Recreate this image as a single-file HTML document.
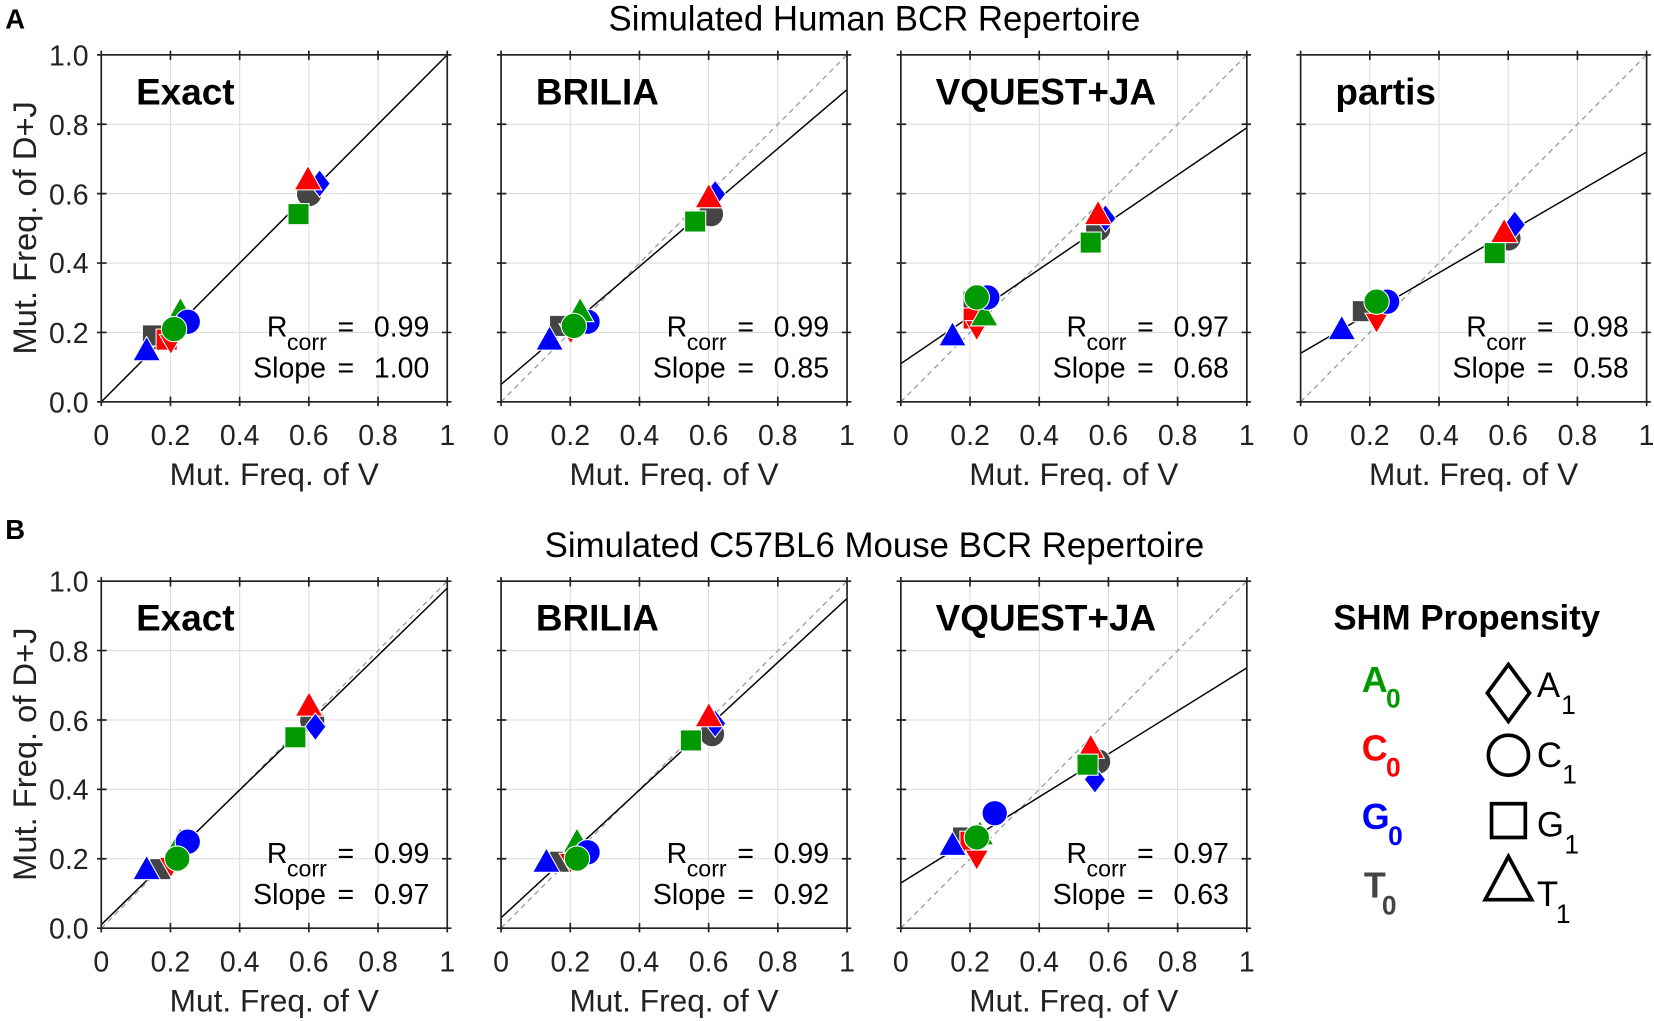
<!DOCTYPE html>
<html><head><meta charset="utf-8"><style>html,body{margin:0;padding:0;background:#fff}svg{display:block}</style></head>
<body>
<svg width="1654" height="1021" viewBox="0 0 1568 968" preserveAspectRatio="none" xmlns="http://www.w3.org/2000/svg" font-family="Liberation Sans, Arial, sans-serif">
<defs>
<g id="tu"><polygon points="0,-13 13,10 -13,10" stroke="#fff" stroke-width="1"/></g>
<g id="td"><polygon points="0,11 11,-8 -11,-8" stroke="#fff" stroke-width="1"/></g>
<g id="sq"><rect x="-10" y="-10" width="20" height="20" stroke="#fff" stroke-width="1"/></g>
<g id="ci"><circle r="12" stroke="#fff" stroke-width="1"/></g>
<g id="di"><polygon points="0,-13 10,0 0,13 -10,0" stroke="#fff" stroke-width="1"/></g>
<g id="grid" stroke="#dcdcdc" stroke-width="1">
<line x1="65.6" y1="0" x2="65.6" y2="329"/><line x1="131.2" y1="0" x2="131.2" y2="329"/><line x1="196.8" y1="0" x2="196.8" y2="329"/><line x1="262.4" y1="0" x2="262.4" y2="329"/>
<line x1="0" y1="65.8" x2="328" y2="65.8"/><line x1="0" y1="131.6" x2="328" y2="131.6"/><line x1="0" y1="197.4" x2="328" y2="197.4"/><line x1="0" y1="263.2" x2="328" y2="263.2"/>
</g>
<g id="box" fill="none" stroke="#222" stroke-width="1.6">
<rect x="0" y="0" width="328" height="329"/>
<path d="M65.6,0v5M131.2,0v5M196.8,0v5M262.4,0v5M65.6,329v-5M131.2,329v-5M196.8,329v-5M262.4,329v-5M0,65.8h5M0,131.6h5M0,197.4h5M0,263.2h5M328,65.8h-5M328,131.6h-5M328,197.4h-5M328,263.2h-5M0,0v-4M65.6,0v-4M131.2,0v-4M196.8,0v-4M262.4,0v-4M328,0v-4M0,329v4M65.6,329v4M131.2,329v4M196.8,329v4M262.4,329v4M328,329v4M0,0h-4M0,65.8h-4M0,131.6h-4M0,197.4h-4M0,263.2h-4M0,329h-4M328,0h4M328,65.8h4M328,131.6h4M328,197.4h4M328,263.2h4M328,329h4"/>
</g>
<line id="diag" x1="0" y1="329" x2="328" y2="0" stroke="#999" stroke-width="1.2" stroke-dasharray="5,4"/>
</defs>

<text x="5" y="27" font-size="26" font-weight="bold">A</text>
<text x="829" y="29" font-size="33" text-anchor="middle">Simulated Human BCR Repertoire</text>
<text x="5" y="511" font-size="26" font-weight="bold">B</text>
<text x="829" y="528" font-size="33" text-anchor="middle">Simulated C57BL6 Mouse BCR Repertoire</text>

<use href="#grid" x="96" y="52"/><use href="#grid" x="475" y="52"/><use href="#grid" x="854" y="52"/><use href="#grid" x="1233" y="52"/>
<use href="#grid" x="96" y="551"/><use href="#grid" x="475" y="551"/><use href="#grid" x="854" y="551"/>

<use href="#diag" x="475" y="52"/><use href="#diag" x="854" y="52"/><use href="#diag" x="1233" y="52"/>
<use href="#diag" x="96" y="551"/><use href="#diag" x="475" y="551"/><use href="#diag" x="854" y="551"/>

<g stroke="#000" stroke-width="1.4">
<line x1="96" y1="381" x2="424" y2="52"/>
<line x1="475" y1="364.5" x2="803" y2="84.9"/>
<line x1="854" y1="344.8" x2="1182" y2="121.1"/>
<line x1="1233" y1="334.9" x2="1561" y2="144.1"/>
<line x1="96" y1="876.7" x2="424" y2="557.6"/>
<line x1="475" y1="870.1" x2="803" y2="567.4"/>
<line x1="854" y1="837.2" x2="1182" y2="633.2"/>
</g>

<use href="#sq" x="145" y="318" fill="#444"/>
<use href="#sq" x="158" y="322" fill="#f00"/>
<use href="#td" x="162" y="325" fill="#f00"/>
<use href="#tu" x="139" y="332" fill="#00f"/>
<use href="#tu" x="171" y="295" fill="#090"/>
<use href="#ci" x="178" y="305" fill="#00f"/>
<use href="#ci" x="165" y="312" fill="#090"/>
<use href="#ci" x="293" y="184" fill="#444"/>
<use href="#di" x="303" y="174" fill="#00f"/>
<use href="#tu" x="292" y="170" fill="#f00"/>
<use href="#sq" x="283" y="203" fill="#090"/>

<use href="#sq" x="531" y="309" fill="#444"/>
<use href="#td" x="541" y="315" fill="#f00"/>
<use href="#tu" x="521" y="322" fill="#00f"/>
<use href="#ci" x="557" y="305" fill="#00f"/>
<use href="#tu" x="550" y="295" fill="#090"/>
<use href="#ci" x="544" y="309" fill="#090"/>
<use href="#ci" x="674" y="203" fill="#444"/>
<use href="#di" x="678" y="184" fill="#00f"/>
<use href="#tu" x="672" y="187" fill="#f00"/>
<use href="#sq" x="659" y="210" fill="#090"/>

<use href="#sq" x="923" y="286" fill="#444"/>
<use href="#sq" x="923" y="302" fill="#f00"/>
<use href="#td" x="926" y="312" fill="#f00"/>
<use href="#tu" x="903" y="318" fill="#00f"/>
<use href="#tu" x="933" y="299" fill="#090"/>
<use href="#ci" x="936" y="282" fill="#00f"/>
<use href="#ci" x="926" y="282" fill="#090"/>
<use href="#ci" x="1041" y="217" fill="#444"/>
<use href="#di" x="1048" y="207" fill="#00f"/>
<use href="#tu" x="1041" y="203" fill="#f00"/>
<use href="#sq" x="1034" y="230" fill="#090"/>

<use href="#sq" x="1292" y="295" fill="#444"/>
<use href="#td" x="1305" y="305" fill="#f00"/>
<use href="#tu" x="1272" y="312" fill="#00f"/>
<use href="#ci" x="1315" y="286" fill="#00f"/>
<use href="#ci" x="1305" y="286" fill="#090"/>
<use href="#ci" x="1430" y="226" fill="#444"/>
<use href="#di" x="1436" y="213" fill="#00f"/>
<use href="#tu" x="1426" y="220" fill="#f00"/>
<use href="#sq" x="1417" y="240" fill="#090"/>

<use href="#sq" x="152" y="824" fill="#444"/>
<use href="#td" x="162" y="821" fill="#f00"/>
<use href="#tu" x="139" y="824" fill="#00f"/>
<use href="#tu" x="171" y="798" fill="#090"/>
<use href="#ci" x="178" y="798" fill="#00f"/>
<use href="#ci" x="168" y="814" fill="#090"/>
<use href="#ci" x="296" y="683" fill="#444"/>
<use href="#tu" x="293" y="669" fill="#f00"/>
<use href="#di" x="299" y="689" fill="#00f"/>
<use href="#sq" x="280" y="699" fill="#090"/>

<use href="#sq" x="531" y="817" fill="#444"/>
<use href="#td" x="541" y="817" fill="#f00"/>
<use href="#tu" x="518" y="817" fill="#00f"/>
<use href="#tu" x="547" y="798" fill="#090"/>
<use href="#ci" x="557" y="808" fill="#00f"/>
<use href="#ci" x="547" y="814" fill="#090"/>
<use href="#ci" x="675" y="696" fill="#444"/>
<use href="#di" x="678" y="686" fill="#00f"/>
<use href="#tu" x="672" y="679" fill="#f00"/>
<use href="#sq" x="655" y="702" fill="#090"/>

<use href="#sq" x="913" y="794" fill="#444"/>
<use href="#sq" x="920" y="798" fill="#f00"/>
<use href="#td" x="926" y="814" fill="#f00"/>
<use href="#tu" x="903" y="801" fill="#00f"/>
<use href="#tu" x="929" y="791" fill="#090"/>
<use href="#ci" x="943" y="771" fill="#00f"/>
<use href="#ci" x="926" y="794" fill="#090"/>
<use href="#ci" x="1041" y="722" fill="#444"/>
<use href="#tu" x="1034" y="709" fill="#f00"/>
<use href="#di" x="1038" y="739" fill="#00f"/>
<use href="#sq" x="1031" y="725" fill="#090"/>

<use href="#box" x="96" y="52"/><use href="#box" x="475" y="52"/><use href="#box" x="854" y="52"/><use href="#box" x="1233" y="52"/>
<use href="#box" x="96" y="551"/><use href="#box" x="475" y="551"/><use href="#box" x="854" y="551"/>

<g font-size="35" font-weight="bold">
<text x="129" y="99">Exact</text><text x="508" y="99">BRILIA</text><text x="887" y="99">VQUEST+JA</text><text x="1266" y="99">partis</text>
<text x="129" y="598">Exact</text><text x="508" y="598">BRILIA</text><text x="887" y="598">VQUEST+JA</text>
</g>

<g font-size="27">
<text x="253" y="319">R</text><text x="272" y="332" font-size="22">corr</text><text x="320" y="319">=</text><text x="407" y="319" text-anchor="end">0.99</text><text x="240" y="358">Slope</text><text x="320" y="358">=</text><text x="407" y="358" text-anchor="end">1.00</text>
<text x="632" y="319">R</text><text x="651" y="332" font-size="22">corr</text><text x="699" y="319">=</text><text x="786" y="319" text-anchor="end">0.99</text><text x="619" y="358">Slope</text><text x="699" y="358">=</text><text x="786" y="358" text-anchor="end">0.85</text>
<text x="1011" y="319">R</text><text x="1030" y="332" font-size="22">corr</text><text x="1078" y="319">=</text><text x="1165" y="319" text-anchor="end">0.97</text><text x="998" y="358">Slope</text><text x="1078" y="358">=</text><text x="1165" y="358" text-anchor="end">0.68</text>
<text x="1390" y="319">R</text><text x="1409" y="332" font-size="22">corr</text><text x="1457" y="319">=</text><text x="1544" y="319" text-anchor="end">0.98</text><text x="1377" y="358">Slope</text><text x="1457" y="358">=</text><text x="1544" y="358" text-anchor="end">0.58</text>
<text x="253" y="818">R</text><text x="272" y="831" font-size="22">corr</text><text x="320" y="818">=</text><text x="407" y="818" text-anchor="end">0.99</text><text x="240" y="857">Slope</text><text x="320" y="857">=</text><text x="407" y="857" text-anchor="end">0.97</text>
<text x="632" y="818">R</text><text x="651" y="831" font-size="22">corr</text><text x="699" y="818">=</text><text x="786" y="818" text-anchor="end">0.99</text><text x="619" y="857">Slope</text><text x="699" y="857">=</text><text x="786" y="857" text-anchor="end">0.92</text>
<text x="1011" y="818">R</text><text x="1030" y="831" font-size="22">corr</text><text x="1078" y="818">=</text><text x="1165" y="818" text-anchor="end">0.97</text><text x="998" y="857">Slope</text><text x="1078" y="857">=</text><text x="1165" y="857" text-anchor="end">0.63</text>
</g>

<g font-size="27" fill="#222" text-anchor="end">
<text x="84" y="62">1.0</text><text x="84" y="128">0.8</text><text x="84" y="194">0.6</text><text x="84" y="259">0.4</text><text x="84" y="325">0.2</text><text x="84" y="391">0.0</text>
<text x="84" y="561">1.0</text><text x="84" y="627">0.8</text><text x="84" y="693">0.6</text><text x="84" y="758">0.4</text><text x="84" y="824">0.2</text><text x="84" y="890">0.0</text>
</g>
<g font-size="31" fill="#222" text-anchor="middle">
<text transform="translate(34,216) rotate(-90)">Mut. Freq. of D+J</text>
<text transform="translate(34,715) rotate(-90)">Mut. Freq. of D+J</text>
</g>

<g font-size="27" fill="#222" text-anchor="middle">
<text x="96" y="422">0</text><text x="161.6" y="422">0.2</text><text x="227.2" y="422">0.4</text><text x="292.8" y="422">0.6</text><text x="358.4" y="422">0.8</text><text x="424" y="422">1</text>
<text x="475" y="422">0</text><text x="540.6" y="422">0.2</text><text x="606.2" y="422">0.4</text><text x="671.8" y="422">0.6</text><text x="737.4" y="422">0.8</text><text x="803" y="422">1</text>
<text x="854" y="422">0</text><text x="919.6" y="422">0.2</text><text x="985.2" y="422">0.4</text><text x="1050.8" y="422">0.6</text><text x="1116.4" y="422">0.8</text><text x="1182" y="422">1</text>
<text x="1233" y="422">0</text><text x="1298.6" y="422">0.2</text><text x="1364.2" y="422">0.4</text><text x="1429.8" y="422">0.6</text><text x="1495.4" y="422">0.8</text><text x="1561" y="422">1</text>
<text x="96" y="921">0</text><text x="161.6" y="921">0.2</text><text x="227.2" y="921">0.4</text><text x="292.8" y="921">0.6</text><text x="358.4" y="921">0.8</text><text x="424" y="921">1</text>
<text x="475" y="921">0</text><text x="540.6" y="921">0.2</text><text x="606.2" y="921">0.4</text><text x="671.8" y="921">0.6</text><text x="737.4" y="921">0.8</text><text x="803" y="921">1</text>
<text x="854" y="921">0</text><text x="919.6" y="921">0.2</text><text x="985.2" y="921">0.4</text><text x="1050.8" y="921">0.6</text><text x="1116.4" y="921">0.8</text><text x="1182" y="921">1</text>
</g>
<g font-size="30" fill="#222" text-anchor="middle">
<text x="260" y="460">Mut. Freq. of V</text><text x="639" y="460">Mut. Freq. of V</text><text x="1018" y="460">Mut. Freq. of V</text><text x="1397" y="460">Mut. Freq. of V</text>
<text x="260" y="959">Mut. Freq. of V</text><text x="639" y="959">Mut. Freq. of V</text><text x="1018" y="959">Mut. Freq. of V</text>
</g>

<text x="1264" y="597" font-size="33" font-weight="bold">SHM Propensity</text>
<g font-size="34" font-weight="bold">
<text x="1291" y="656" fill="#090">A</text><text x="1314" y="671" font-size="25" fill="#090">0</text>
<text x="1291" y="721" fill="#f00">C</text><text x="1314" y="736" font-size="25" fill="#f00">0</text>
<text x="1291" y="786" fill="#00f">G</text><text x="1316" y="801" font-size="25" fill="#00f">0</text>
<text x="1293" y="851" fill="#444">T</text><text x="1310" y="867" font-size="25" fill="#444">0</text>
</g>
<g fill="none" stroke="#000" stroke-width="3.5">
<polygon points="1430,630 1450,657 1430,684 1410,657"/>
<circle cx="1430" cy="716" r="19"/>
<rect x="1414" y="762" width="32" height="32"/>
<polygon points="1430,812 1452,853 1408,853"/>
</g>
<g font-size="33">
<text x="1457" y="661">A</text><text x="1480" y="677" font-size="25">1</text>
<text x="1457" y="727">C</text><text x="1481" y="743" font-size="25">1</text>
<text x="1457" y="793">G</text><text x="1483" y="809" font-size="25">1</text>
<text x="1457" y="859">T</text><text x="1475" y="875" font-size="25">1</text>
</g>
</svg>
</body></html>
